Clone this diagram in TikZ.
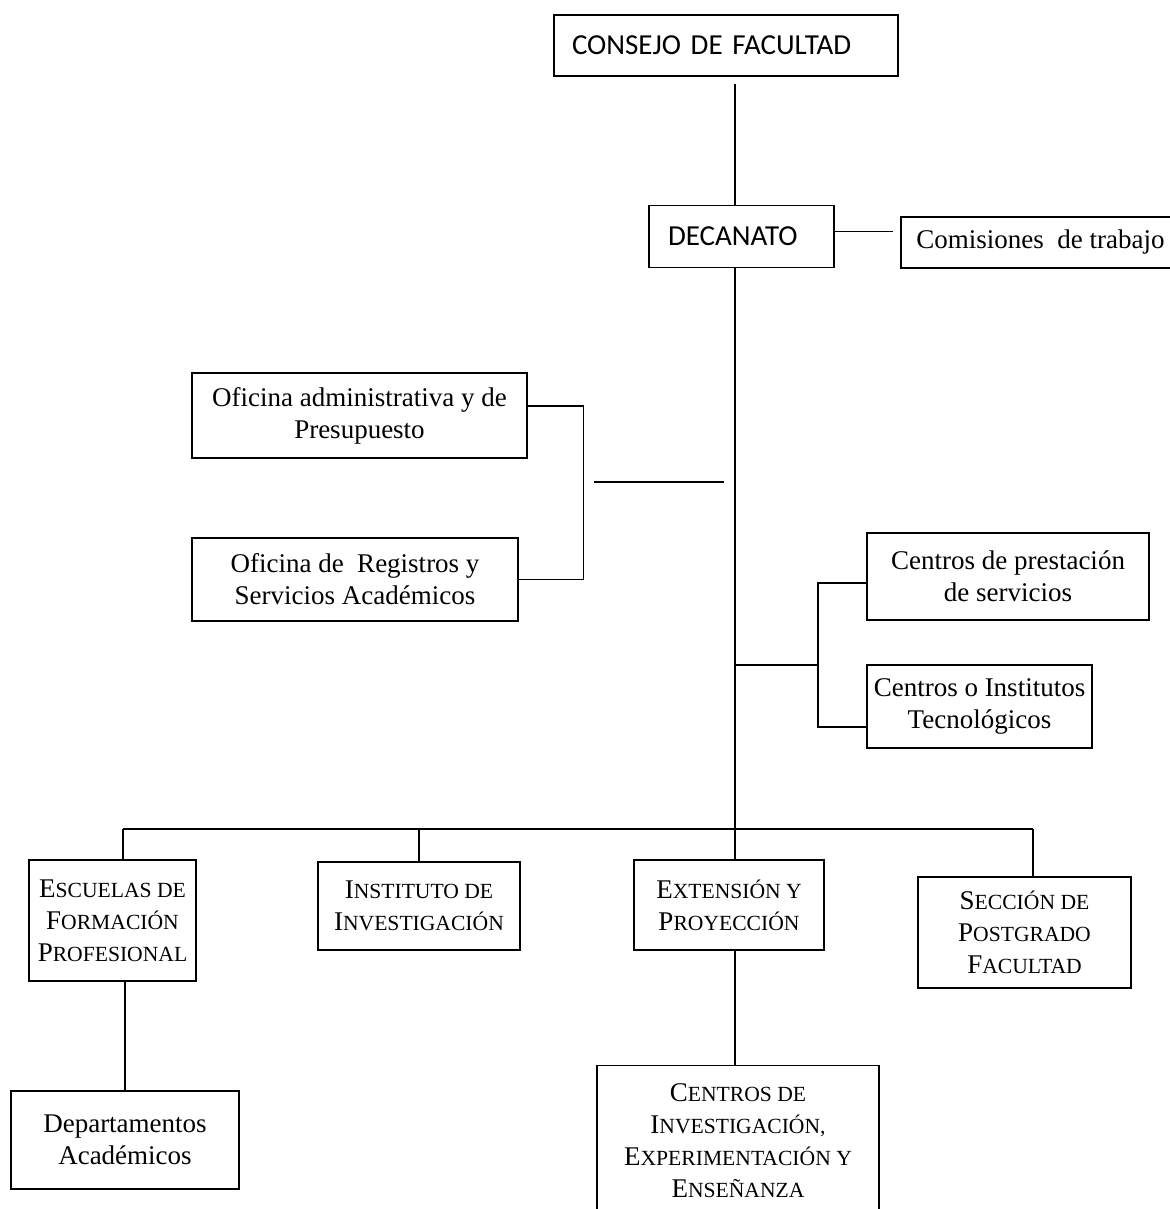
\documentclass[tikz,border=0pt]{standalone}
\usepackage{fontspec}
\setmainfont{Liberation Serif}
\newfontfamily\calibri{Carlito}
\usepackage{tikz}
\usetikzlibrary{calc}

% versalitas: first letter full size, the rest smaller
\newcommand{\vers}[2]{#1{\fontsize{10.8pt}{16pt}\selectfont #2}}

\tikzset{
	linea/.style={line width=0.7pt},
	caja/.style={draw, line width=0.7pt, align=center, inner sep=0pt,
		font=\fontsize{13.5pt}{16pt}\selectfont},
	cajasans/.style={draw, line width=0.7pt, align=left, inner ysep=0pt,
		font=\calibri\fontsize{14.5pt}{17pt}\selectfont},
}

\begin{document}
\begin{tikzpicture}[x=0.5pt, y=-0.5pt]
	
	\useasboundingbox (0,0) rectangle (1170,1209);
	
	% upper part
	\node[cajasans, minimum height=30.5pt, inner xsep=9pt, text width=154pt] (consejo) at (726,45.5) {CONSEJO DE FACULTAD};
	\node[cajasans, minimum height=31pt, inner xsep=9.5pt, text width=73.5pt] (decanato) at (741.5,236.5) {DECANATO};
	\node[caja, minimum width=139.5pt, minimum height=25.5pt] (comisiones) at (1040.5,242.5) {Comisiones \ de trabajo};
	
	\node[caja, minimum width=167.5pt, minimum height=42.5pt] (admin) at (359.5,415.5) {Oficina administrativa y de\\Presupuesto};
	\node[caja, minimum width=163pt, minimum height=41.5pt] (registro) at (355,579.5) {Oficina de \ Registros y\\Servicios Académicos};
	
	\node[caja, minimum width=141pt, minimum height=43.5pt] (prestacion) at (1008,576.5) {Centros de prestación\\de servicios};
	\node[caja, minimum width=112.5pt, minimum height=41.5pt] (institutos) at (979.5,706.5) {Centros o Institutos\\Tecnológicos};
	
	% lower part
	\node[caja, minimum width=83.5pt, minimum height=60.5pt] (escuelas) at (112.5,920.5) {\vers{E}{SCUELAS DE}\\\vers{F}{ORMACIÓN}\\\vers{P}{ROFESIONAL}};
	\node[caja, minimum width=101pt, minimum height=44pt] (instituto) at (419,906) {\vers{I}{NSTITUTO DE}\\\vers{I}{NVESTIGACIÓN}};
	\node[caja, minimum width=95pt, minimum height=45pt] (extension) at (729,905) {\vers{E}{XTENSIÓN Y}\\\vers{P}{ROYECCIÓN}};
	\node[caja, minimum width=106.5pt, minimum height=55.5pt] (seccion) at (1024.5,932.5) {\vers{S}{ECCIÓN DE}\\\vers{P}{OSTGRADO}\\\vers{F}{ACULTAD}};
	
	\node[caja, minimum width=114pt, minimum height=49pt] (departamentos) at (125,1140) {Departamentos\\Académicos};
	\node[caja, anchor=north, minimum width=141pt, inner ysep=9pt, text depth=5pt] (centrosinv) at (738,1065) {\vers{C}{ENTROS DE}\\\vers{I}{NVESTIGACIÓN,}\\\vers{E}{XPERIMENTACIÓN Y}\\\vers{E}{NSEÑANZA}};
	
	% connectors
	\coordinate (tronco) at (735,0);
	\coordinate (busI) at (123,829);
	\coordinate (busD) at (1033,829);
	\coordinate (ramal) at (735,665);
	\coordinate (ramaS) at (818,583);
	\coordinate (ramaI) at (818,727);
	\coordinate (libreA) at (594,482);
	\coordinate (libreB) at (724,482);
	
	\draw[linea, shorten <=3.5pt] (consejo.south -| tronco) -- (decanato.north -| tronco);
	\draw[linea, shorten >=3.5pt] ([yshift=2.5pt]decanato.east) -- ([yshift=2.5pt]decanato.east -| comisiones.west);
	\draw[linea] (decanato.south -| tronco) -- (extension.north -| tronco);
	
	\draw[linea] ([yshift=4.75pt]admin.east) -- ++(56,0) |- (registro.east);
	\draw[linea] (libreA) -- (libreB);
	
	\draw[linea] (ramal) -- (ramal -| ramaS);
	\draw[linea] (prestacion.west |- ramaS) -- (ramaS) -- (ramaI) -- (institutos.west |- ramaI);
	
	\draw[linea] (busI) -- (busD);
	\draw[linea] (busI) -- (busI |- escuelas.north);
	\draw[linea] (instituto.north) -- (instituto.north |- busI);
	\draw[linea] (busD) -- (busD |- seccion.north);
	
	\draw[linea] (escuelas.south -| departamentos.north) -- (departamentos.north);
	\draw[linea] (extension.south -| tronco) -- (centrosinv.north -| tronco);
\end{tikzpicture}
\end{document}
